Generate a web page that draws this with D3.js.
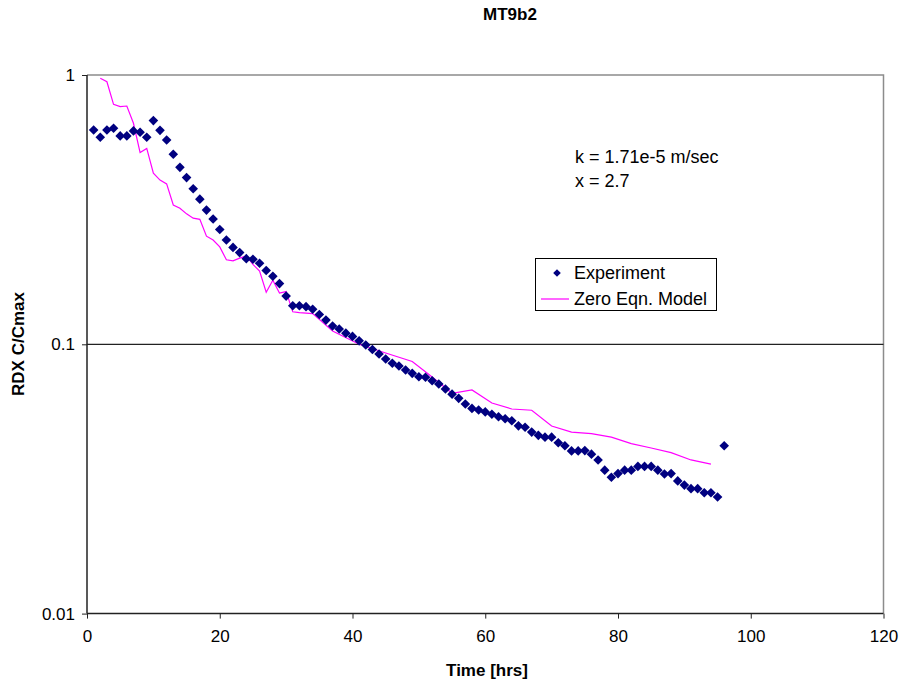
<!DOCTYPE html>
<html>
<head>
<meta charset="utf-8">
<script src="https://cdn.jsdelivr.net/npm/d3@7/dist/d3.min.js"></script>
<style>
  html, body { margin: 0; padding: 0; background: #fff; }
  svg { display: block; font-family: "Liberation Sans", Arial, sans-serif; }
</style>
</head>
<body>
<svg id="chart" width="904" height="688"></svg>
<script>
// Experiment: RDX C/Cmax sampled hourly
const expHours = [1,2,3,4,5,6,7,8,9,10,11,12,13,14,15,16,17,18,19,20,
  21,22,23,24,25,26,27,28,29,30,31,32,33,34,35,36,37,38,39,40,
  41,42,43,44,45,46,47,48,49,50,51,52,53,54,55,56,57,58,59,60,
  61,62,63,64,65,66,67,68,69,70,71,72,73,74,75,76,77,78,79,80,
  81,82,83,84,85,86,87,88,89,90,91,92,93,94,95,96];
const expValues = [0.625,0.587,0.625,0.634,0.594,0.594,0.620,0.613,0.587,0.677,
  0.623,0.574,0.508,0.454,0.416,0.378,0.346,0.315,0.292,0.267,
  0.244,0.229,0.219,0.208,0.207,0.200,0.188,0.179,0.168,0.151,
  0.139,0.139,0.138,0.135,0.129,0.123,0.117,0.114,0.110,0.107,
  0.103,0.0994,0.0956,0.0920,0.0882,0.0850,0.0831,0.0803,0.0780,0.0758,
  0.0754,0.0732,0.0712,0.0682,0.0653,0.0630,0.0600,0.0578,0.0570,0.0561,
  0.0550,0.0538,0.0529,0.0520,0.0498,0.0492,0.0472,0.0459,0.0452,0.0452,
  0.0431,0.0420,0.0402,0.0402,0.0403,0.0391,0.0372,0.0341,0.0321,0.0331,
  0.0341,0.0341,0.0352,0.0352,0.0352,0.0341,0.0330,0.0331,0.0311,0.0300,
  0.0291,0.0291,0.0281,0.0281,0.0271,0.0420];

// Zero-equation model prediction
const modelHours = [2,3,4,5,6,7,8,9,10,11,12,13,14,15,16,17,18,19,20,
  21,22,23,24,25,26,27,28,29,30,31,32,34,37,41,45,49,52,55,58,61,64,67,70,
  73,76,79,82,85,88,91,94];
const modelValues = [0.972,0.944,0.778,0.763,0.767,0.662,0.515,0.534,0.432,0.407,
  0.394,0.329,0.320,0.305,0.294,0.291,0.252,0.244,0.230,
  0.206,0.204,0.209,0.213,0.198,0.187,0.156,0.173,0.155,0.157,0.132,0.131,
  0.130,0.112,0.100,0.0928,0.0863,0.0756,0.0658,0.0677,0.0605,0.0575,0.0569,0.0497,
  0.0472,0.0466,0.0452,0.0428,0.0412,0.0396,0.0372,0.0359];

const xTicks = [0, 20, 40, 60, 80, 100, 120];
const yTicks = [0.01, 0.1, 1];
const yTickLabels = ["0.01", "0.1", "1"];

const chartTitle = "MT9b2";
const xTitle = "Time [hrs]";
const yTitle = "RDX C/Cmax";
const seriesNames = ["Experiment", "Zero Eqn. Model"];
const notes = ["k = 1.71e-5 m/sec", "x = 2.7"];

const svg = d3.select("#chart");
const plot = { left: 87, right: 883.5, top: 75, bottom: 613.6 };

const x = d3.scaleLinear().domain([0, 120]).range([plot.left, plot.right]);
const y = d3.scaleLog().domain([0.01, 1]).range([plot.bottom, plot.top]);

// frame: top and right edges in grey
svg.append("path")
  .attr("d", `M${plot.left},${plot.top}H${plot.right}V${plot.bottom}`)
  .attr("fill", "none").attr("stroke", "#8c8c8c").attr("stroke-width", 1.5);

// major gridline (inner decades)
svg.append("g").selectAll("line")
  .data(yTicks.filter(v => v > 0.01 && v < 1))
  .join("line")
  .attr("x1", plot.left).attr("x2", plot.right)
  .attr("y1", d => y(d)).attr("y2", d => y(d))
  .attr("stroke", "#222").attr("stroke-width", 1.3);

// axes
const xAxis = d3.axisBottom(x).tickValues(xTicks).tickSize(5).tickPadding(11)
  .tickFormat(d3.format("d"));
const gx = svg.append("g").attr("transform", `translate(0,${plot.bottom})`).call(xAxis);
gx.select(".domain").attr("stroke", "#222").attr("stroke-width", 1.5).attr("d", `M${plot.left},0H${plot.right}`);
gx.selectAll(".tick line").attr("stroke", "#222");
gx.selectAll("text").attr("font-size", 17).attr("fill", "#000")
  .attr("font-family", "Liberation Sans, Arial, sans-serif");

const yAxis = d3.axisLeft(y).tickValues(yTicks).tickSize(5).tickPadding(7)
  .tickFormat((d, i) => yTickLabels[i]);
const gy = svg.append("g").attr("transform", `translate(${plot.left},0)`).call(yAxis);
gy.select(".domain").attr("stroke", "#222").attr("stroke-width", 1.5).attr("d", `M0,${plot.bottom}V${plot.top}`);
gy.selectAll(".tick line").attr("stroke", "#222");
gy.selectAll("text").attr("font-size", 17).attr("fill", "#000")
  .attr("font-family", "Liberation Sans, Arial, sans-serif");

// model curve
const line = d3.line().x(d => x(d[0])).y(d => y(d[1]));
svg.append("path")
  .datum(modelHours.map((h, i) => [h, modelValues[i]]))
  .attr("d", line)
  .attr("fill", "none").attr("stroke", "#ff00ff").attr("stroke-width", 1.2);

// experiment diamonds
const diamond = r => `M0,${-r}L${r},0L0,${r}L${-r},0Z`;
svg.append("g").selectAll("path")
  .data(expHours.map((h, i) => [h, expValues[i]]))
  .join("path")
  .attr("transform", d => `translate(${x(d[0])},${y(d[1])})`)
  .attr("d", diamond(4.8))
  .attr("fill", "#000080");

// titles
svg.append("text").attr("x", 510).attr("y", 20).attr("text-anchor", "middle")
  .attr("font-size", 17).attr("font-weight", "bold").text(chartTitle);
svg.append("text").attr("x", 487).attr("y", 676).attr("text-anchor", "middle")
  .attr("font-size", 17).attr("font-weight", "bold").text(xTitle);
svg.append("text").attr("transform", "translate(24,344) rotate(-90)")
  .attr("text-anchor", "middle").attr("font-size", 17).attr("font-weight", "bold").text(yTitle);

// parameter notes
svg.append("g").selectAll("text").data(notes).join("text")
  .attr("x", 575).attr("y", (d, i) => 163 + i * 24)
  .attr("font-size", 18).text(d => d);

// legend
const lg = svg.append("g");
lg.append("rect").attr("x", 535.5).attr("y", 258.5).attr("width", 181).attr("height", 52)
  .attr("fill", "#fff").attr("stroke", "#000").attr("stroke-width", 1);
lg.append("path").attr("transform", "translate(557,273)").attr("d", diamond(3.8)).attr("fill", "#000080");
lg.append("line").attr("x1", 541).attr("x2", 569).attr("y1", 299).attr("y2", 299)
  .attr("stroke", "#ff00ff").attr("stroke-width", 1.2);
lg.selectAll("text.lbl").data(seriesNames).join("text").attr("class", "lbl")
  .attr("x", 574).attr("y", (d, i) => 279 + i * 26)
  .attr("font-size", 18).text(d => d);
</script>
</body>
</html>
